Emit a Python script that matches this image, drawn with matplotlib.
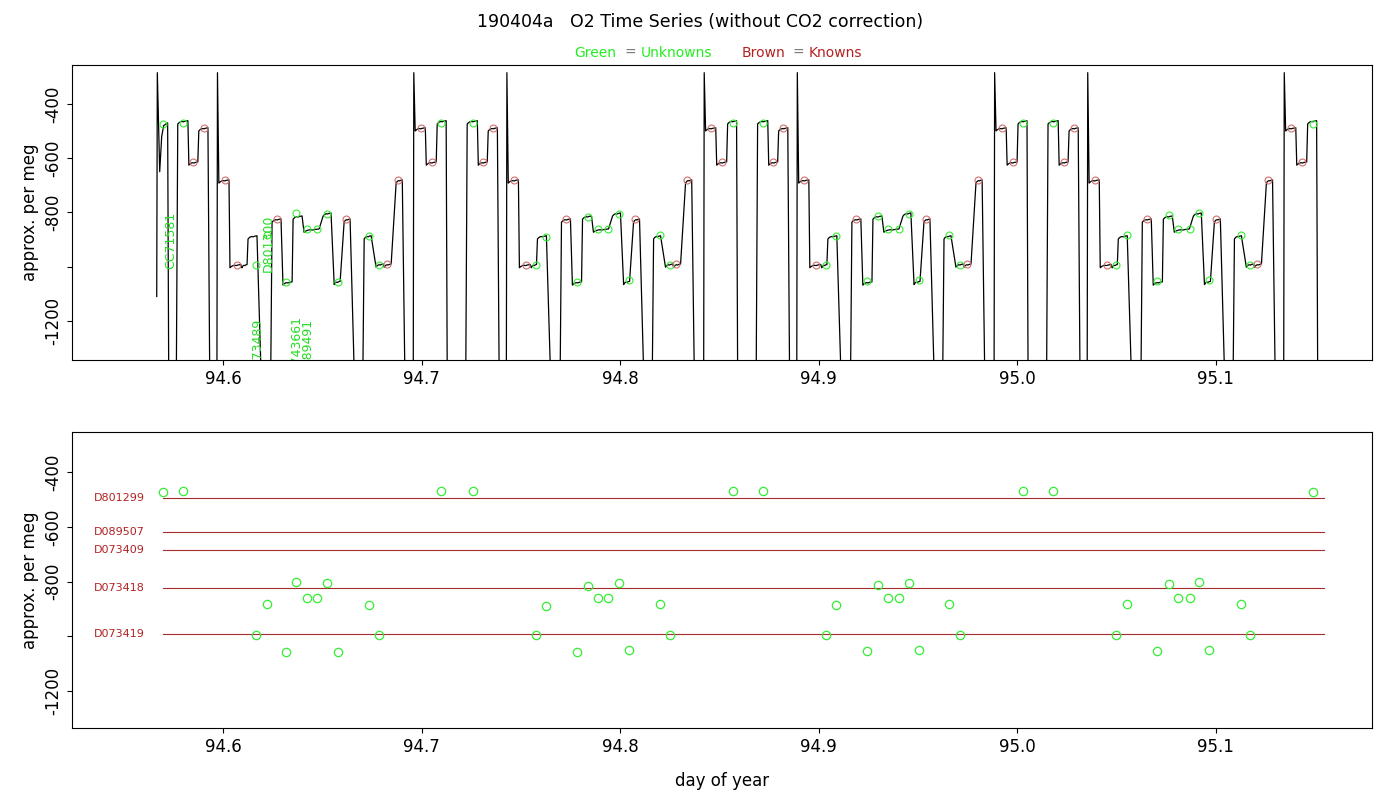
import numpy as np
import matplotlib.pyplot as plt

# cycle start days (first cycle only partly present, last one only block A)
cycle_starts = [94.5499, 94.6957, 94.8420, 94.9883, 95.1342]

# one cycle of the sample sequence: block, start/end offset (days from cycle start), level, kind
plat_block = ["A", "A", "A", "B", "B", "B", "C", "C", "C", "C",
              "D", "D", "D", "D", "D", "D", "D", "E", "E", "E", "E"]
plat_t0 = [0.0010, 0.0066, 0.0121, 0.0272, 0.0328, 0.0378, 0.0479, 0.0535, 0.0595, 0.0626,
           0.0747, 0.0802, 0.0853, 0.0908, 0.1004, 0.1060, 0.1110, 0.1211, 0.1271, 0.1312, 0.1372]
plat_t1 = [0.0061, 0.0116, 0.0166, 0.0323, 0.0373, 0.0424, 0.0530, 0.0590, 0.0621, 0.0671,
           0.0792, 0.0848, 0.0898, 0.0984, 0.1044, 0.1090, 0.1140, 0.1246, 0.1307, 0.1347, 0.1403]
plat_level = [-492, -618, -466, -466, -618, -492, -684, -996, -996, -890,
              -828, -1060, -817, -865, -806, -1058, -828, -890, -994, -994, -684]
plat_kind = ["K", "K", "U", "U", "K", "K", "K", "K", "U", "U",
             "K", "U", "U", "U", "U", "U", "K", "U", "U", "K", "K"]
spike_off = {"A": 0.0, "C": 0.0469}
block_drop = {"A": 0.0167, "B": 0.0429, "C": 0.0691, "D": 0.1160, "E": 0.1413}

# known reference lines (bottom panel)
known_names = ["D801299", "D089507", "D073409", "D073418", "D073419"]
known_levels = [-495, -617, -685, -824, -993]

# unknown results (day, per meg)
unk_day = [94.5696, 94.5797, 94.6166, 94.6222, 94.6318, 94.6368, 94.6424, 94.6474, 94.6525, 94.6580,
           94.6732, 94.6787, 94.7095, 94.7257, 94.7575, 94.7626, 94.7782, 94.7838, 94.7888, 94.7938,
           94.7994, 94.8044, 94.8201, 94.8251, 94.8569, 94.8721, 94.9034, 94.9089, 94.9243, 94.9299,
           94.9349, 94.9405, 94.9455, 94.9505, 94.9657, 94.9712, 95.0030, 95.0182, 95.0499, 95.0555,
           95.0706, 95.0762, 95.0812, 95.0868, 95.0918, 95.0968, 95.1125, 95.1170, 95.1488]
unk_val = [-473, -469, -995, -882, -1058, -802, -860, -860, -806, -1058,
           -886, -995, -469, -469, -995, -890, -1058, -817, -860, -860,
           -806, -1049, -882, -995, -469, -469, -995, -886, -1054, -813,
           -860, -860, -806, -1050, -882, -995, -469, -469, -995, -882,
           -1054, -810, -860, -860, -802, -1050, -882, -995, -473]

LOW = -1500
TOP = -285
xs, ys = [], []
bk_x, bk_y = [], []
for ci, c0 in enumerate(cycle_starts):
    blocks = ["A", "B", "C", "D", "E"]
    if ci == 0:
        blocks = ["B", "C", "D", "E"]
    if ci == len(cycle_starts) - 1:
        blocks = ["A"]
    for b in blocks:
        idx = [i for i, pb in enumerate(plat_block) if pb == b]
        if b in spike_off:
            xs += [c0 + spike_off[b], c0 + spike_off[b] + 0.0003]
            ys += [LOW, TOP]
        else:
            xs += [c0 + plat_t0[idx[0]] - 0.0008]
            ys += [LOW]
        for i in idx:
            tt = np.linspace(c0 + plat_t0[i], c0 + plat_t1[i], 8)
            xs += list(tt)
            ys += list(plat_level[i] + np.array([-8, -3, 0, 1, 0, 2, 3, 4]))
            if plat_kind[i] == "K":
                bk_x.append(c0 + plat_t1[i] - 0.0022)
                bk_y.append(plat_level[i] + 3)
        xs += [c0 + block_drop[b] + 0.0005, np.nan]
        ys += [LOW, np.nan]

# first partial block of the first cycle
xs = [94.5665, 94.5668, 94.5680, 94.5690, 94.5700, 94.5720, 94.5726, np.nan] + xs
ys = [-1110, TOP, -650, -520, -480, -470, LOW, np.nan] + ys

fig = plt.figure(figsize=(14, 8), dpi=100)
ax1 = fig.add_axes([0.0514, 0.55, 0.9286, 0.369])
ax2 = fig.add_axes([0.0514, 0.09, 0.9286, 0.37])

ax1.plot(xs, ys, color="black", lw=0.9)
ax1.plot(unk_day, unk_val, "o", ms=5, mfc="none", mec="#33ee33", mew=0.8)
ax1.plot(bk_x, bk_y, "o", ms=5, mfc="none", mec="#d07070", mew=0.8)

for txt, x, y in [("CC71581", 94.5735, -1010), ("D801300", 94.6226, -1020),
                  ("D073489", 94.6170, -1400), ("D743661", 94.6367, -1390),
                  ("D089491", 94.6422, -1400)]:
    ax1.text(x, y, txt, rotation=90, color="#22dd22", fontsize=9,
             ha="center", va="bottom", clip_on=True)

for ax in (ax1, ax2):
    ax.set_xlim(94.5238, 95.1787)
    ax.set_xticks([94.6, 94.7, 94.8, 94.9, 95.0, 95.1])
    ax.set_xticklabels(["94.6", "94.7", "94.8", "94.9", "95.0", "95.1"], fontsize=12)
    ax.set_yticks([-400, -600, -800, -1000, -1200])
    ax.set_yticklabels(["-400", "-600", "-800", "", "-1200"], fontsize=12,
                       rotation=90, va="center")
    ax.set_ylabel("approx. per meg", fontsize=12)

ax1.set_ylim(-1344, -256)
ax2.set_ylim(-1335, -253)

for name, lev in zip(known_names, known_levels):
    ax2.plot([94.5696, 95.1545], [lev, lev], color="#a52a2a", lw=0.8)
    ax2.text(94.5350, lev, name, color="#b22222", fontsize=8, va="center")
ax2.plot(unk_day, unk_val, "o", ms=6, mfc="none", mec="#33ee33", mew=0.9)
ax2.set_xlabel("day of year", fontsize=12, labelpad=12)

fig.text(0.5, 0.972, "190404a   O2 Time Series (without CO2 correction)",
         ha="center", va="center", fontsize=12.5)
fig.text(0.410, 0.934, "Green", color="#22ee22", fontsize=10, ha="left", va="center")
fig.text(0.446, 0.934, "=", color="#777777", fontsize=10, ha="left", va="center")
fig.text(0.4575, 0.934, "Unknowns", color="#22ee22", fontsize=10, ha="left", va="center")
fig.text(0.530, 0.934, "Brown", color="#b22222", fontsize=10, ha="left", va="center")
fig.text(0.566, 0.934, "=", color="#777777", fontsize=10, ha="left", va="center")
fig.text(0.5775, 0.934, "Knowns", color="#b22222", fontsize=10, ha="left", va="center")

fig.savefig("out.png", dpi=100)
